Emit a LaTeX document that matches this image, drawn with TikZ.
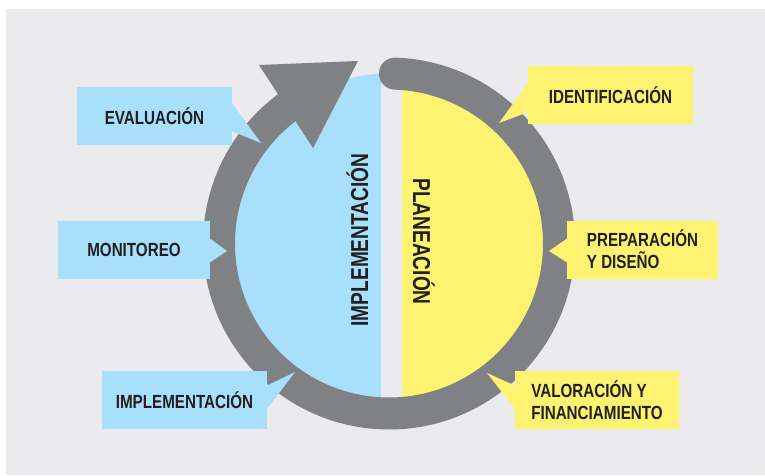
\documentclass[tikz,border=0pt]{standalone}
\usepackage{fontspec}
\setmainfont{Liberation Sans}
\newfontfamily\tagfont{Liberation Sans}[FakeStretch=0.8]
\newfontfamily\phasefont{Liberation Sans}[FakeStretch=0.78]
\usepackage{xcolor}
\usepackage{tikz}
\usetikzlibrary{positioning,calc}

\definecolor{paper}{RGB}{235,235,237}
\definecolor{ringgray}{RGB}{128,129,132}
\definecolor{skyfill}{RGB}{168,223,250}
\definecolor{lemonfill}{RGB}{254,243,112}
\definecolor{ink}{RGB}{35,31,32}

\begin{document}
\begin{tikzpicture}[x=1pt,y=1pt,
    ring/.style={draw=ringgray, line width=32pt, line cap=round},
    tag/.style={inner sep=0pt, minimum height=58pt, text=ink, align=left,
        font=\tagfont\bfseries\fontsize{19}{22}\selectfont},
    bluetag/.style={tag, fill=skyfill},
    yellowtag/.style={tag, fill=lemonfill},
    phase/.style={inner sep=0pt, anchor=base, text=ink,
        font=\phasefont\bfseries\fontsize{24.5}{28}\selectfont}]
    \useasboundingbox (0,0) rectangle (765,475);

    % Background
    \fill[paper] (6,0) rectangle (765,466);
    \coordinate (C) at (389,231.5);

    % Two halves
    \begin{scope}
        \clip (0,0) rectangle (381,475);
        \fill[skyfill] (C) circle[radius=170];
    \end{scope}
    \begin{scope}
        \clip (402,0) rectangle (765,475);
        \fill[lemonfill] (C) circle[radius=170];
    \end{scope}

    % Cycle arrow
    \draw[ring] ([shift={(88:170)}]C) arc[start angle=88, end angle=-236, radius=170];
    \fill[ringgray] (259,410) -- (358,414) -- (313,327) -- cycle;

    % Phases
    \node[phase, rotate=90] (implphase) at (368,235) {IMPLEMENTACIÓN};
    \node[phase, rotate=-90] (planphase) at (413,233.5) {PLANEACIÓN};

    % Steps, left side
    \node[bluetag, minimum width=155pt] (eval) at (154.5,359) {EVALUACIÓN};
    \node[bluetag, minimum width=152pt] (monit) at (134,225) {MONITOREO};
    \node[bluetag, minimum width=165pt] (impl) at (184.5,75) {IMPLEMENTACIÓN};

    % Steps, right side
    \node[yellowtag, minimum width=165pt] (ident) at (610.5,380) {IDENTIFICACIÓN};
    \node[yellowtag, minimum width=151pt] (prep) at (642.5,225.5) {PREPARACIÓN\\Y DISEÑO};
    \node[yellowtag, minimum width=164pt] (valor) at (597,75) {VALORACIÓN Y\\FINANCIAMIENTO};

    % Pointer tips on the ring
    \coordinate (evaltip) at (261,332);
    \coordinate (monittip) at (227,224);
    \coordinate (impltip) at (295,103);
    \coordinate (identtip) at (499,352);
    \coordinate (preptip) at (549,224);
    \coordinate (valortip) at (487,102);

    % Pointers
    \fill[skyfill] ([xshift=-1pt,yshift=14pt]eval.east) -- (evaltip) -- ([xshift=-1pt,yshift=-15pt]eval.east) -- cycle;
    \fill[skyfill] ([xshift=-1pt,yshift=12pt]monit.east) -- (monittip) -- ([xshift=-1pt,yshift=-13pt]monit.east) -- cycle;
    \fill[skyfill] ([xshift=-1pt,yshift=14pt]impl.east) -- (impltip) -- ([xshift=-1pt,yshift=-10pt]impl.east) -- cycle;
    \fill[lemonfill] ([xshift=1pt,yshift=13pt]ident.west) -- (identtip) -- ([xshift=1pt,yshift=-17pt]ident.west) -- cycle;
    \fill[lemonfill] ([xshift=1pt,yshift=11.5pt]prep.west) -- (preptip) -- ([xshift=1pt,yshift=-13.5pt]prep.west) -- cycle;
    \fill[lemonfill] ([xshift=1pt,yshift=14pt]valor.west) -- (valortip) -- ([xshift=1pt,yshift=-10pt]valor.west) -- cycle;
\end{tikzpicture}
\end{document}
